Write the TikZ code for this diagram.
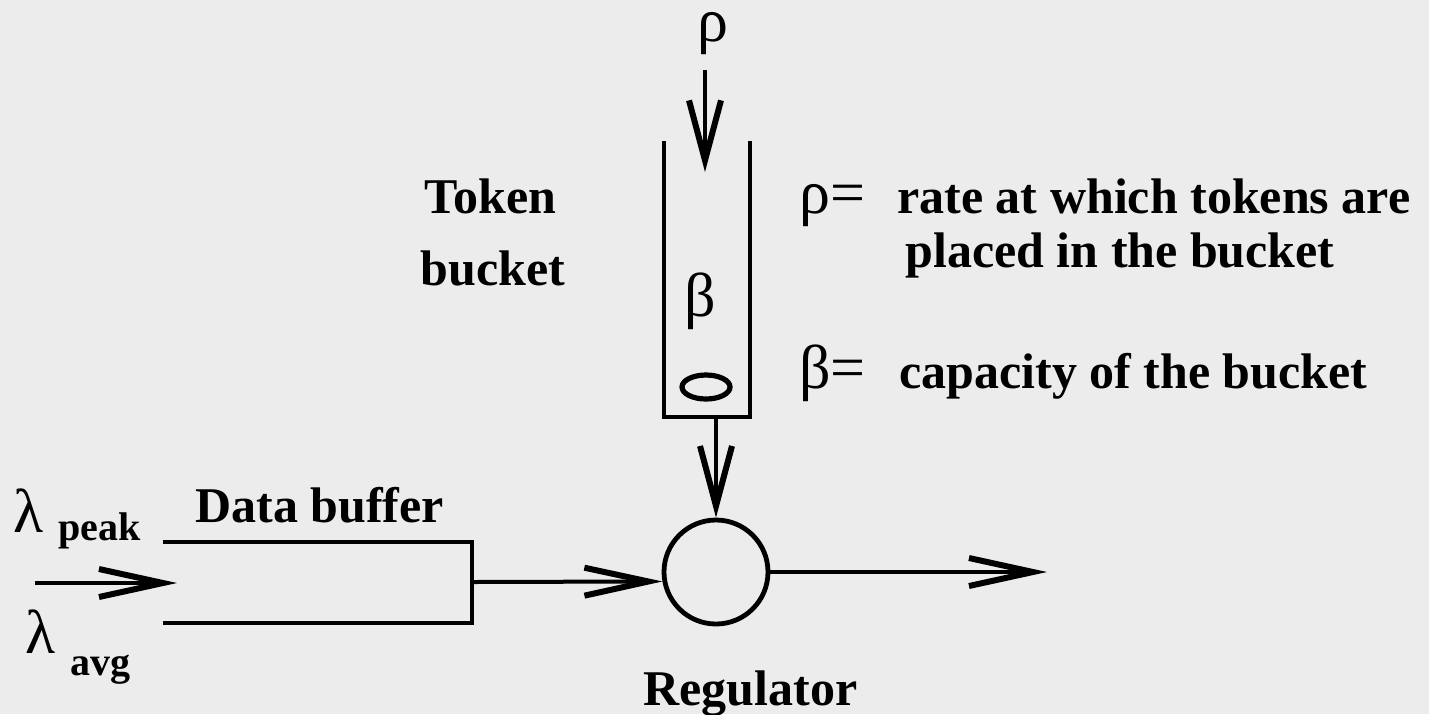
\documentclass[tikz,border=0pt]{standalone}
\usepackage{fontspec}
\setmainfont{Liberation Serif}
\usetikzlibrary{arrows.meta,shapes.geometric}
\definecolor{bgc}{RGB}{236,236,236}
\tikzset{
  barbv/.tip={Straight Barb[length=30pt,width=16pt,line width=3pt]},
  barbh/.tip={Straight Barb[length=32pt,width=14pt,line width=3pt]},
  wire/.style={line width=2pt},
  thickwire/.style={line width=2.4pt},
  lbl/.style={font=\fontsize{25}{30}\selectfont\bfseries, inner sep=0pt, anchor=base west},
  sublbl/.style={font=\fontsize{20}{24}\selectfont\bfseries, inner sep=0pt, anchor=base west},
  greek/.style={font=\fontsize{31}{34}\selectfont, inner sep=0pt, anchor=base west},
}
\begin{document}
\begin{tikzpicture}[x=0.5pt,y=-0.5pt]
\fill[bgc] (0,0) rectangle (1429,714);
\useasboundingbox (0,0) rectangle (1429,714);

% top rho and incoming arrow
\node[greek, text height=14pt, text depth=6pt] (rho) at (697,41) {ρ};
\coordinate (rhoin) at (705,70);
\coordinate (rhotip) at (705,172);
\draw[wire,-barbv] (rhoin) -- (rhotip);

% bucket
\draw[thickwire] (664,141) -- (664,417) -- (750,417) -- (750,141);
\node[greek] (beta) at (684,316) {β};
\node[draw, ellipse, line width=2.6pt, minimum width=24pt, minimum height=12pt, inner sep=0pt] (tok) at (706,387) {};
\coordinate (bucketout) at (716,417);

% labels
\node[lbl] (tokenlbl) at (424,213) {Token};
\node[lbl] (bucketlbl) at (420,285) {bucket};
\node[greek] (rhoeq) at (799,213) {ρ=};
\node[lbl] (rate1) at (897,213) {rate at which tokens are};
\node[lbl] (rate2) at (905,267) {placed in the bucket};
\node[greek] (betaeq) at (799,388) {β=};
\node[lbl] (cap) at (899,388) {capacity of the bucket};

% regulator
\node[draw, circle, thickwire, minimum size=52pt, inner sep=0pt] (reg) at (716,572) {};
\node[lbl] (reglbl) at (643,705) {Regulator};
\draw[wire,-barbv] (bucketout) -- (reg.north);

% data buffer
\draw[wire] (163,542) -- (472,542) -- (472,623) -- (163,623);
\coordinate (bufout) at (472,582);
\node[lbl] (buflbl) at (195,522) {Data buffer};
\draw[wire,-barbh] (bufout) -- (reg.190);

% output
\coordinate (outend) at (1047,572);
\draw[wire,-barbh] (reg.east) -- (outend);

% input
\coordinate (inbeg) at (35,583);
\coordinate (inend) at (177,583);
\draw[wire,-barbh] (inbeg) -- (inend);
\node[greek] (lam1) at (13,532) {λ};
\node[sublbl] (peak) at (58,540) {peak};
\node[greek] (lam2) at (25,653) {λ};
\node[sublbl] (avg) at (70,675) {avg};
\end{tikzpicture}
\end{document}
